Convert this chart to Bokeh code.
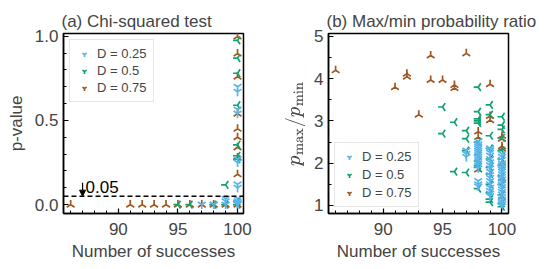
import math
from bokeh.plotting import figure
from bokeh.models import (SingleIntervalTicker, Legend, LegendItem, Span, Arrow,
                          NormalHead, Label, Range1d, NumeralTickFormatter)
from bokeh.layouts import row
from bokeh.embed import file_html
from bokeh.resources import INLINE

# ---------------- data ----------------
labels = ["D = 0.25", "D = 0.5", "D = 0.75"]
colors = ["#56B4E9", "#0FA273", "#A0561E"]

# Panel (a): chi-squared p-values vs number of successes
a_x_d25 = [97, 98, 98, 99, 99, 99] + [100] * 13
a_p_d25 = [0.0, 0.0, 0.0, 0.0, 0.02, 0.035,
           0.70, 0.67, 0.565, 0.54, 0.27, 0.25, 0.12, 0.10, 0.035, 0.02, 0.01, 0.005, 0.0]
a_x_d50 = [95, 96, 98, 99, 99] + [100] * 9
a_p_d50 = [0.0, 0.0, 0.0, 0.0, 0.117,
           0.975, 0.87, 0.78, 0.59, 0.355, 0.29, 0.27, 0.02, 0.0]
a_x_d75 = [86, 91, 92, 93, 94, 95, 96, 97, 98, 99] + [100] * 10
a_p_d75 = [0.0] * 10 + [0.998, 0.897, 0.76, 0.54, 0.45, 0.40, 0.34, 0.28, 0.18, 0.0]
threshold = 0.05
threshold_label = "0.05"
arrow_x, arrow_top = 87, 0.13

# Panel (b): max/min probability ratio vs number of successes
b_x_d25 = [97] * 3 + [98] * 16 + [99] * 17 + [100] * 22
b_r_d25 = [2.30, 2.22, 2.15,
           2.52, 2.45, 2.40, 2.35, 2.30, 2.25, 2.20, 2.15, 2.10, 2.05, 2.00, 1.95, 1.88, 1.58, 1.50, 1.45,
           2.35, 2.30, 2.25, 2.18, 2.10, 2.02, 1.95, 1.88, 1.80, 1.72, 1.65, 1.58, 1.50, 1.42, 1.35, 1.28, 1.22,
           2.22, 2.15, 2.08, 2.00, 1.95, 1.90, 1.85, 1.80, 1.74, 1.68, 1.62, 1.56, 1.50, 1.44, 1.38, 1.32,
           1.26, 1.20, 1.14, 1.08, 1.03, 0.98]
b_x_d50 = [95] * 2 + [96] * 2 + [97] * 4 + [98] * 11 + [99] * 11 + [100] * 12
b_r_d50 = [3.33, 2.70,
           2.97, 1.80,
           2.77, 2.58, 2.30, 1.78,
           3.80, 3.22, 3.05, 3.00, 2.95, 2.50, 2.20, 2.05, 1.95, 1.90, 1.40,
           3.38, 3.15, 2.65, 2.35, 2.10, 1.90, 1.75, 1.50, 1.30, 1.15, 1.08,
           3.10, 2.90, 2.80, 2.60, 2.30, 2.10, 1.95, 1.70, 1.50, 1.25, 1.05, 0.97]
b_x_d75 = [86, 91, 92, 92, 93, 94, 94, 95, 96, 96, 97] + [98] * 3 + [99] * 3 + [100] * 7
b_r_d75 = [4.20, 3.80, 4.12, 4.05, 3.15, 4.55, 3.97, 3.97, 3.85, 3.78, 4.60,
           2.75, 2.62, 1.85,
           3.87, 3.12, 3.02,
           2.65, 2.58, 2.40, 2.35, 2.00, 1.65, 1.20]

# ---------------- styling helpers ----------------
FONT = "Liberation Sans"
angles = [0.0, -math.pi / 2, math.pi]   # tri_down, tri_left, tri_up


def make_fig(title, ylabel, xr, yr, yint, yminor, yfmt, min_left, min_right):
    p = figure(frame_width=180, frame_height=180, output_backend="svg",
               toolbar_location=None, x_range=Range1d(*xr), y_range=Range1d(*yr),
               min_border_left=min_left, min_border_right=min_right,
               min_border_top=33, min_border_bottom=4, title=title)
    p.title.text_font = FONT
    p.title.text_font_size = "17px"
    p.title.text_font_style = "normal"
    p.title.align = "left"
    p.title.offset = -2
    p.title.standoff = 5
    p.xgrid.visible = False
    p.ygrid.visible = False
    p.outline_line_color = "black"
    p.outline_line_width = 1.5
    p.xaxis.ticker = SingleIntervalTicker(interval=5, num_minor_ticks=5)
    p.yaxis.ticker = SingleIntervalTicker(interval=yint, num_minor_ticks=yminor)
    if yfmt:
        p.yaxis.formatter = NumeralTickFormatter(format=yfmt)
    for ax in (p.xaxis[0], p.yaxis[0]):
        ax.axis_line_color = "black"
        ax.axis_line_width = 1.5
        ax.major_tick_in = 5
        ax.major_tick_out = 0
        ax.minor_tick_in = 3
        ax.minor_tick_out = 0
        ax.major_tick_line_width = 1.2
        ax.minor_tick_line_width = 1
        ax.major_label_text_font = FONT
        ax.major_label_text_font_size = "17px"
        ax.axis_label_text_font = FONT
        ax.axis_label_text_font_size = "17px"
        ax.axis_label_text_font_style = "normal"
    p.xaxis.axis_label = "Number of successes"
    p.xaxis.major_label_standoff = 9
    p.xaxis.axis_label_standoff = 4
    p.yaxis.axis_label = ylabel
    p.yaxis.major_label_standoff = 5
    p.yaxis.axis_label_standoff = 6
    p.background_fill_color = "white"
    p.border_fill_color = "white"
    return p


def add_series(p, xs, ys):
    rs = []
    for x, y, c, a in zip(xs, ys, colors, angles):
        r = p.scatter(x, y, marker="y", size=9, angle=a, line_color=c,
                      line_width=1.7, fill_color=None)
        rs.append(r)
    return rs


def add_legend(p, rs, loc, spacing):
    leg = Legend(items=[LegendItem(label=l, renderers=[r]) for l, r in zip(labels, rs)],
                 location=loc)
    leg.label_text_font = FONT
    leg.label_text_font_size = "13px"
    leg.label_height = 12
    leg.glyph_height = 12
    leg.glyph_width = 16
    leg.spacing = spacing
    leg.padding = 6
    leg.margin = 6
    leg.border_line_color = "#cccccc"
    leg.border_line_width = 1
    leg.background_fill_alpha = 1.0
    p.add_layout(leg)


# ---------------- panel (a) ----------------
pa = make_fig("(a) Chi-squared test", "p-value", (85.4, 100.5), (-0.053, 1.016),
              0.5, 5, "0.0", 63, 25)
ra = add_series(pa, [a_x_d25, a_x_d50, a_x_d75], [a_p_d25, a_p_d50, a_p_d75])
pa.renderers = [ra[2], ra[1], ra[0]]
pa.add_layout(Span(location=threshold, dimension="width", line_color="black",
                   line_width=1.5, line_dash="5 3"))
pa.add_layout(Arrow(end=NormalHead(size=6, fill_color="black", line_color="black"),
                    x_start=arrow_x, y_start=arrow_top, x_end=arrow_x, y_end=threshold,
                    line_width=1.2, line_color="black"))
pa.add_layout(Label(x=arrow_x, y=threshold, text=threshold_label, x_offset=3, y_offset=3,
                    text_font=FONT, text_font_size="17px", text_color="black"))
add_legend(pa, ra, "top_left", 2)

# ---------------- panel (b) ----------------
pb = make_fig("(b) Max/min probability ratio", r"$$p_{\mathrm{max}}/p_{\mathrm{min}}$$",
              (85.4, 100.55), (0.81, 5.07), 1, 2, None, 60, 32)
rb = add_series(pb, [b_x_d25, b_x_d50, b_x_d75], [b_r_d25, b_r_d50, b_r_d75])
pb.renderers = [rb[2], rb[1], rb[0]]
add_legend(pb, rb, "bottom_left", 3)

layout = row(pa, pb)
open("out.html", "w").write(file_html(layout, INLINE))
